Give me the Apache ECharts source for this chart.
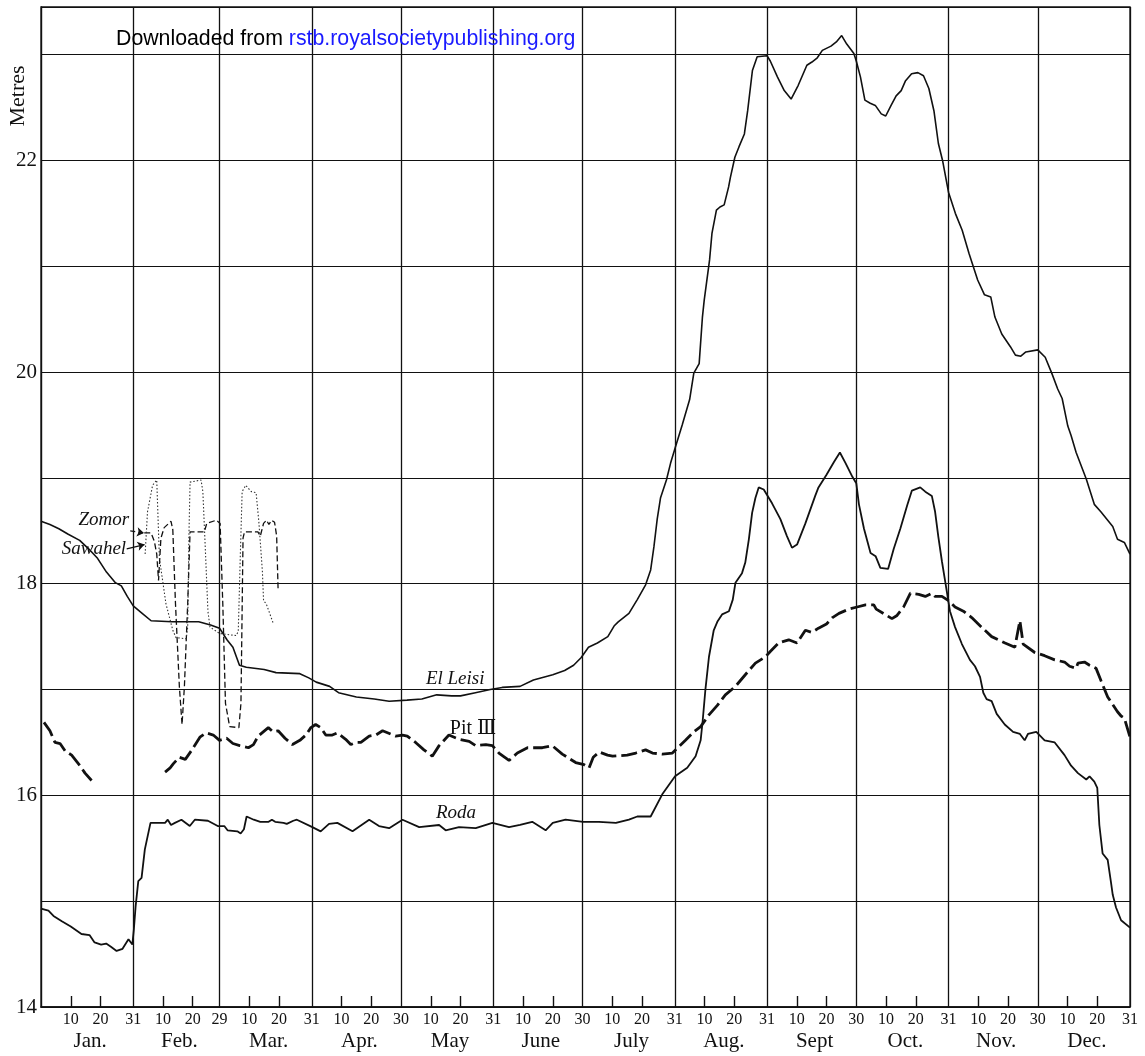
<!DOCTYPE html>
<html>
<head>
<meta charset="utf-8">
<script src="https://cdn.jsdelivr.net/npm/echarts@6/dist/echarts.min.js"></script>
<style>
html, body { margin: 0; padding: 0; background: #fff; }
#chart { width: 1145px; height: 1056px; }
</style>
</head>
<body>
<div id="chart"></div>
<script>
// months of the (leap) year, x axis is day of year
var monthNames = ['Jan.', 'Feb.', 'Mar.', 'Apr.', 'May', 'June', 'July', 'Aug.', 'Sept', 'Oct.', 'Nov.', 'Dec.'];
var monthLengths = [31, 29, 31, 30, 31, 30, 31, 31, 30, 31, 30, 31];
var levelLabels = [14, 16, 18, 20, 22];

// El Leisi
var leisiDays = [0, 3, 6, 9, 13, 16, 19, 22, 25, 27, 29, 31, 34, 37, 44, 53, 57, 60, 62.5, 64.5, 66.7, 69, 75, 79, 87, 90, 92.5, 97, 100, 106, 112, 117, 123, 128, 133, 138, 141, 146, 151, 155, 161, 165.5, 172, 176, 179, 181.5, 184, 187, 190.5, 192.6, 194, 197.6, 200.4, 203.2, 204.9, 206, 207.1, 208.2, 210.2, 211.6, 213.3, 215.5, 218, 219.4, 221.2, 222.3, 222.9, 224.7, 225.5, 227, 228.2, 229.6, 231.1, 231.7, 233.2, 234.6, 236.4, 237.5, 239.1, 240.7, 244, 245.1, 247.5, 249.8, 252.1, 254.5, 257.4, 259.1, 260.9, 262.6, 265.5, 267.3, 269.1, 270.8, 273.2, 274, 275.4, 276.9, 278.7, 280.4, 282.4, 283.9, 285.7, 287.4, 289.1, 290.5, 292.6, 294.7, 296.6, 298.4, 300.1, 301.6, 303, 305, 307.3, 309.6, 311.9, 314.8, 317.1, 319.2, 320.6, 322.9, 325.8, 327.5, 329.3, 331, 335, 337.5, 339.7, 341.7, 343.2, 345.1, 346.2, 347.9, 351.3, 354, 356.2, 360.2, 361.8, 364.1, 366];
var leisiLevels = [18.59, 18.56, 18.52, 18.47, 18.41, 18.33, 18.24, 18.11, 18.01, 17.98, 17.88, 17.79, 17.72, 17.65, 17.64, 17.64, 17.61, 17.58, 17.47, 17.40, 17.23, 17.21, 17.19, 17.16, 17.15, 17.11, 17.07, 17.03, 16.97, 16.93, 16.91, 16.89, 16.90, 16.91, 16.95, 16.94, 16.94, 16.97, 17.00, 17.02, 17.03, 17.09, 17.14, 17.18, 17.23, 17.30, 17.40, 17.44, 17.50, 17.60, 17.64, 17.72, 17.85, 17.99, 18.13, 18.35, 18.61, 18.81, 18.98, 19.14, 19.30, 19.50, 19.74, 19.99, 20.08, 20.52, 20.68, 21.06, 21.31, 21.53, 21.56, 21.58, 21.75, 21.84, 22.03, 22.13, 22.25, 22.47, 22.85, 22.98, 22.99, 22.94, 22.79, 22.66, 22.58, 22.71, 22.90, 22.93, 22.97, 23.04, 23.08, 23.12, 23.18, 23.10, 23.01, 22.94, 22.79, 22.57, 22.54, 22.52, 22.44, 22.42, 22.52, 22.61, 22.66, 22.75, 22.82, 22.83, 22.80, 22.68, 22.47, 22.16, 22.00, 21.70, 21.50, 21.34, 21.12, 20.87, 20.73, 20.71, 20.52, 20.36, 20.24, 20.16, 20.15, 20.19, 20.21, 20.14, 19.99, 19.84, 19.75, 19.49, 19.40, 19.24, 18.99, 18.75, 18.68, 18.54, 18.42, 18.39, 18.28];

// Roda
var rodaDays = [0, 2.5, 4.2, 7, 10, 13.6, 16.3, 18, 20.2, 21.9, 23.5, 25.4, 27.4, 29.4, 30.7, 31.2, 31.8, 32.7, 33.8, 34.9, 36.8, 41.7, 42.6, 43.7, 45, 47.2, 50, 51.7, 56.1, 59.4, 61.6, 62.7, 66, 67.1, 68.2, 69.1, 71.5, 73.7, 76.5, 77.6, 78.7, 81.5, 82.6, 84.8, 86, 91.2, 94, 96.8, 99.6, 104.7, 110.3, 113.6, 117, 121.5, 127.1, 133.8, 136, 140.5, 146.1, 151.7, 157.3, 161, 165.1, 169.6, 172, 176.3, 182.2, 187.5, 193.2, 197.6, 200.4, 204.9, 208.8, 213.1, 217.2, 220, 221.7, 222.4, 223.3, 224.5, 226.1, 227.3, 228.9, 231.2, 232.5, 233.4, 235.6, 236.7, 237.9, 239, 240.1, 241.2, 242.9, 245.7, 248.5, 250.7, 252.4, 254.1, 256.9, 260.2, 261.3, 264, 266.5, 268.5, 270.4, 272.7, 274, 274.9, 276.6, 278.8, 280.5, 282.1, 284.7, 286.6, 288.8, 291.1, 292.7, 295.5, 297.2, 299.4, 300.5, 301.6, 302.8, 303.9, 305.5, 307.2, 309.5, 312.2, 313.9, 315.6, 316.7, 317.8, 319.5, 321.2, 323.9, 326.7, 329, 330.6, 331.7, 334.5, 337.3, 340.7, 344, 346.2, 348.5, 351.3, 352.4, 354, 355, 355.7, 356.8, 358.5, 359.6, 360.2, 361.3, 363, 366];
var rodaLevels = [14.93, 14.91, 14.86, 14.81, 14.76, 14.69, 14.68, 14.61, 14.59, 14.60, 14.57, 14.53, 14.55, 14.64, 14.59, 14.73, 14.95, 15.19, 15.22, 15.49, 15.74, 15.74, 15.77, 15.72, 15.74, 15.77, 15.71, 15.77, 15.76, 15.71, 15.71, 15.67, 15.66, 15.64, 15.68, 15.80, 15.77, 15.75, 15.75, 15.77, 15.75, 15.74, 15.73, 15.76, 15.77, 15.70, 15.66, 15.73, 15.74, 15.66, 15.77, 15.71, 15.69, 15.77, 15.70, 15.72, 15.67, 15.70, 15.69, 15.74, 15.70, 15.72, 15.75, 15.67, 15.74, 15.77, 15.75, 15.75, 15.74, 15.77, 15.80, 15.80, 16.01, 16.18, 16.26, 16.37, 16.52, 16.71, 17.00, 17.31, 17.56, 17.64, 17.71, 17.74, 17.85, 18.01, 18.10, 18.20, 18.42, 18.67, 18.81, 18.91, 18.89, 18.76, 18.61, 18.45, 18.34, 18.37, 18.57, 18.83, 18.91, 19.03, 19.15, 19.24, 19.14, 19.01, 18.95, 18.75, 18.52, 18.29, 18.26, 18.15, 18.14, 18.33, 18.52, 18.74, 18.88, 18.91, 18.87, 18.83, 18.68, 18.44, 18.21, 18.02, 17.74, 17.59, 17.43, 17.28, 17.22, 17.12, 16.97, 16.91, 16.89, 16.77, 16.67, 16.60, 16.58, 16.52, 16.58, 16.60, 16.52, 16.50, 16.38, 16.28, 16.21, 16.15, 16.18, 16.13, 16.07, 15.72, 15.45, 15.39, 15.18, 15.06, 14.94, 14.82, 14.75];

// Pit III (null = gap in the record)
var pitDays = [1, 3, 4.7, 6.4, 8.1, 10.3, 13.1, 14.8, 17, 30, 41.7, 43.4, 44.5, 46.5, 48.5, 50.5, 53.4, 55.5, 57.9, 60, 62.4, 64.5, 66.8, 69.7, 71.4, 73, 76.4, 78, 79.7, 82, 84.5, 87, 89, 90.7, 92.3, 94, 95.7, 97.9, 99.6, 102.4, 104.1, 105.8, 107.5, 110.3, 112.5, 114.8, 119.2, 121.5, 123.1, 125.9, 128.7, 131.5, 133.8, 137.1, 140.5, 143.9, 146.1, 149.5, 151.7, 153.9, 157.3, 160.1, 163.5, 165.1, 168.5, 171.8, 175.2, 179.7, 182.5, 184.2, 185.6, 187.6, 190.4, 192.1, 197, 199.9, 203.2, 205.5, 208.8, 212.2, 214.4, 216.6, 219.4, 221.7, 224.5, 227.3, 230, 233.4, 236.7, 240.1, 243.5, 245.1, 247.9, 251.3, 254.1, 256.9, 259.1, 261.3, 264, 266, 268.2, 271.5, 274.3, 277.1, 279.9, 280.7, 286, 287.7, 289.9, 292.2, 295, 297.2, 299.4, 300.5, 302.8, 305, 307.2, 310, 312.8, 316.1, 319.5, 324, 327.3, 329, 330.1, 334, 337.3, 340.7, 344, 345.7, 347.9, 348.5, 350.7, 352.4, 354.6, 356.3, 358.5, 361.8, 363, 364.1, 366];
var pitLevels = [16.69, 16.61, 16.50, 16.49, 16.42, 16.38, 16.28, 16.21, 16.14, null, 16.22, 16.26, 16.30, 16.36, 16.34, 16.42, 16.55, 16.59, 16.57, 16.52, 16.54, 16.49, 16.47, 16.45, 16.48, 16.56, 16.64, 16.60, 16.61, 16.54, 16.48, 16.52, 16.57, 16.64, 16.67, 16.64, 16.57, 16.57, 16.59, 16.53, 16.48, 16.50, 16.50, 16.56, 16.57, 16.61, 16.56, 16.57, 16.56, 16.50, 16.43, 16.37, 16.47, 16.57, 16.53, 16.51, 16.47, 16.48, 16.47, 16.40, 16.33, 16.40, 16.45, 16.45, 16.45, 16.47, 16.39, 16.31, 16.29, 16.26, 16.36, 16.41, 16.38, 16.37, 16.38, 16.40, 16.43, 16.40, 16.39, 16.40, 16.46, 16.52, 16.60, 16.65, 16.76, 16.85, 16.95, 17.03, 17.14, 17.25, 17.31, 17.36, 17.44, 17.47, 17.44, 17.56, 17.54, 17.58, 17.62, 17.68, 17.72, 17.76, 17.78, 17.80, 17.80, 17.76, 17.67, 17.70, 17.78, 17.91, 17.90, 17.88, 17.91, 17.88, 17.88, 17.84, 17.78, 17.74, 17.68, 17.59, 17.50, 17.44, 17.40, 17.65, 17.43, 17.35, 17.32, 17.28, 17.26, 17.22, 17.20, 17.25, 17.26, 17.23, 17.20, 17.08, 16.93, 16.79, 16.75, 16.73, 16.55];

// Zomor
var zomorDays = [34.7, 37, 38.1, 38.9, 39.5, 40.3, 41.4, 43.7, 44.3, 45.2, 46.5, 47.4, 48.2, 49.3, 50.1, 54.9, 55.7, 58.9, 60.2, 61.1, 62, 63.4, 66.5, 67.2, 67.9, 68.4, 72.9, 73.7, 74.8, 75.8, 76.6, 77.5, 78.5, 79.2, 79.7];
var zomorLevels = [18.48, 18.48, 18.40, 18.28, 18.03, 18.43, 18.53, 18.59, 18.51, 17.81, 17.03, 16.67, 17.03, 17.81, 18.49, 18.49, 18.57, 18.60, 18.57, 17.81, 16.87, 16.65, 16.64, 16.87, 18.43, 18.49, 18.49, 18.45, 18.57, 18.60, 18.56, 18.60, 18.58, 18.45, 17.93];

// Sawahel
var sawahelDays = [35, 35.8, 37.5, 38.9, 39.8, 42, 44.3, 45.4, 48.8, 49.3, 49.7, 50.1, 53.8, 54.4, 55.3, 56.1, 56.8, 60, 65.6, 66.3, 67, 67.6, 68.8, 70.7, 72.3, 73.2, 74.4, 74.8, 75.7, 76.6, 78];
var sawahelLevels = [18.28, 18.68, 18.93, 18.98, 18.24, 17.81, 17.56, 17.49, 17.48, 17.59, 18.43, 18.96, 18.98, 18.87, 18.28, 17.74, 17.59, 17.53, 17.51, 17.55, 18.28, 18.87, 18.93, 18.87, 18.86, 18.59, 18.12, 17.84, 17.81, 17.74, 17.63];

function pairs(days, levels) {
    return days.map(function (d, i) {
        return [d, levels[i] == null ? '-' : levels[i]];
    });
}

// month boundaries, tick and label positions
var monthStarts = [];
var acc = 0;
monthLengths.forEach(function (len) { monthStarts.push(acc); acc += len; });
var monthEnds = monthStarts.map(function (s, i) { return s + monthLengths[i]; });
var tickDays = [];
var dayLabelDays = [];
var dayLabelText = {};
monthStarts.forEach(function (s, i) {
    tickDays.push(s + 10, s + 20);
    dayLabelDays.push(s + 10, s + 20, s + monthLengths[i]);
    dayLabelText[s + 10] = '10';
    dayLabelText[s + 20] = '20';
    dayLabelText[s + monthLengths[i]] = String(monthLengths[i]);
});
var monthMid = monthStarts.map(function (s, i) { return s + monthLengths[i] / 2 + 1; });

var ink = '#111';
var serif = '"Liberation Serif", "DejaVu Serif", serif';
var sans = '"Liberation Sans", Arial, sans-serif';
var italicLabel = { fontFamily: serif, fontStyle: 'italic', fontSize: 19, color: ink };

var chart = echarts.init(document.getElementById('chart'), null, { renderer: 'canvas' });

var option = {
    animation: false,
    backgroundColor: '#fff',
    title: {
        text: '{a|Downloaded from }{b|rstb.royalsocietypublishing.org}',
        left: 116,
        top: 29,
        padding: 0,
        textStyle: {
            fontWeight: 'normal',
            rich: {
                a: { fontFamily: sans, fontSize: 21.3, fontWeight: 'normal', color: '#000' },
                b: { fontFamily: sans, fontSize: 21.3, fontWeight: 'normal', color: '#1a1aff' }
            }
        }
    },
    graphic: [{
        type: 'text',
        x: 18,
        y: 96,
        rotation: Math.PI / 2,
        style: {
            text: 'Metres',
            fontFamily: serif,
            fontSize: 22,
            fill: ink,
            textAlign: 'center',
            textVerticalAlign: 'middle'
        }
    }],
    grid: {
        left: 41,
        right: 15,
        top: 7,
        bottom: 49,
        show: true,
        borderColor: ink,
        borderWidth: 1.3,
        outerBoundsMode: 'none',
        containLabel: false
    },
    xAxis: [{
        type: 'value',
        min: 0,
        max: 366,
        position: 'bottom',
        axisLine: { show: true, onZero: false, lineStyle: { color: ink, width: 1.6 } },
        axisTick: { show: true, customValues: tickDays, inside: true, length: 11, lineStyle: { color: ink, width: 1.4 } },
        axisLabel: {
            customValues: dayLabelDays,
            formatter: function (v) { return dayLabelText[v] || ''; },
            fontFamily: serif,
            fontSize: 16,
            color: ink,
            margin: 5
        },
        splitLine: { show: false }
    }, {
        type: 'value',
        min: 0,
        max: 366,
        position: 'bottom',
        offset: 20,
        axisLine: { show: false },
        axisTick: { show: false },
        axisLabel: {
            customValues: monthMid,
            formatter: function (v) { return monthNames[monthMid.indexOf(v)]; },
            fontFamily: serif,
            fontSize: 21,
            color: ink,
            margin: 4
        },
        splitLine: { show: false }
    }],
    yAxis: {
        type: 'value',
        min: 14,
        max: 23.45,
        interval: 1,
        axisLine: { show: true, onZero: false, lineStyle: { color: ink, width: 1.4 } },
        axisTick: { show: false },
        axisLabel: {
            customValues: levelLabels,
            fontFamily: serif,
            fontSize: 21,
            color: ink,
            margin: 4
        },
        splitLine: { show: true, lineStyle: { color: ink, width: 1.2 } }
    },
    series: [{
        name: 'El Leisi',
        type: 'line',
        data: pairs(leisiDays, leisiLevels),
        showSymbol: false,
        lineStyle: { color: ink, width: 1.6 },
        z: 3,
        markLine: {
            silent: true,
            symbol: 'none',
            label: { show: false },
            lineStyle: { color: ink, width: 1.3, type: 'solid' },
            data: monthEnds.map(function (d) { return { xAxis: d }; })
        },
        markPoint: {
            symbolSize: 0,
            data: [{ coord: [139.2, 17.1], label: Object.assign({ show: true, position: 'inside', formatter: 'El Leisi' }, italicLabel) }]
        }
    }, {
        name: 'Roda',
        type: 'line',
        data: pairs(rodaDays, rodaLevels),
        showSymbol: false,
        lineStyle: { color: ink, width: 1.8 },
        z: 3,
        markPoint: {
            symbolSize: 0,
            data: [{ coord: [139.5, 15.83], label: Object.assign({ show: true, position: 'inside', formatter: 'Roda' }, italicLabel) }]
        }
    }, {
        name: 'Pit III',
        type: 'line',
        data: pairs(pitDays, pitLevels),
        showSymbol: false,
        connectNulls: false,
        lineStyle: { color: ink, width: 2.8, type: [16, 5] },
        z: 3,
        markPoint: {
            symbolSize: 0,
            data: [{ coord: [145.2, 16.63], label: { show: true, position: 'inside', formatter: 'Pit Ⅲ', fontFamily: serif, fontSize: 20, color: ink } }]
        }
    }, {
        name: 'Zomor',
        type: 'line',
        data: pairs(zomorDays, zomorLevels),
        showSymbol: false,
        lineStyle: { color: ink, width: 1.3, type: [6, 3] },
        z: 3,
        markPoint: {
            symbolSize: 0,
            data: [{ coord: [29.6, 18.6], label: Object.assign({ show: true, position: 'left', distance: 0, formatter: 'Zomor' }, italicLabel) }]
        },
        markLine: {
            silent: true,
            symbol: ['none', 'arrow'],
            symbolSize: 7,
            label: { show: false },
            lineStyle: { color: ink, width: 1.2, type: [5, 3] },
            data: [[{ coord: [30, 18.5] }, { coord: [34.6, 18.48] }]]
        }
    }, {
        name: 'Sawahel',
        type: 'line',
        data: pairs(sawahelDays, sawahelLevels),
        showSymbol: false,
        lineStyle: { color: '#333', width: 1.1, type: [1.5, 2] },
        z: 3,
        markPoint: {
            symbolSize: 0,
            data: [{ coord: [28.6, 18.33], label: Object.assign({ show: true, position: 'left', distance: 0, formatter: 'Sawahel' }, italicLabel) }]
        },
        markLine: {
            silent: true,
            symbol: ['none', 'arrow'],
            symbolSize: 7,
            label: { show: false },
            lineStyle: { color: ink, width: 1.2, type: 'solid' },
            data: [[{ coord: [28.8, 18.33] }, { coord: [34.8, 18.37] }]]
        }
    }]
};

chart.setOption(option);
</script>
</body>
</html>
